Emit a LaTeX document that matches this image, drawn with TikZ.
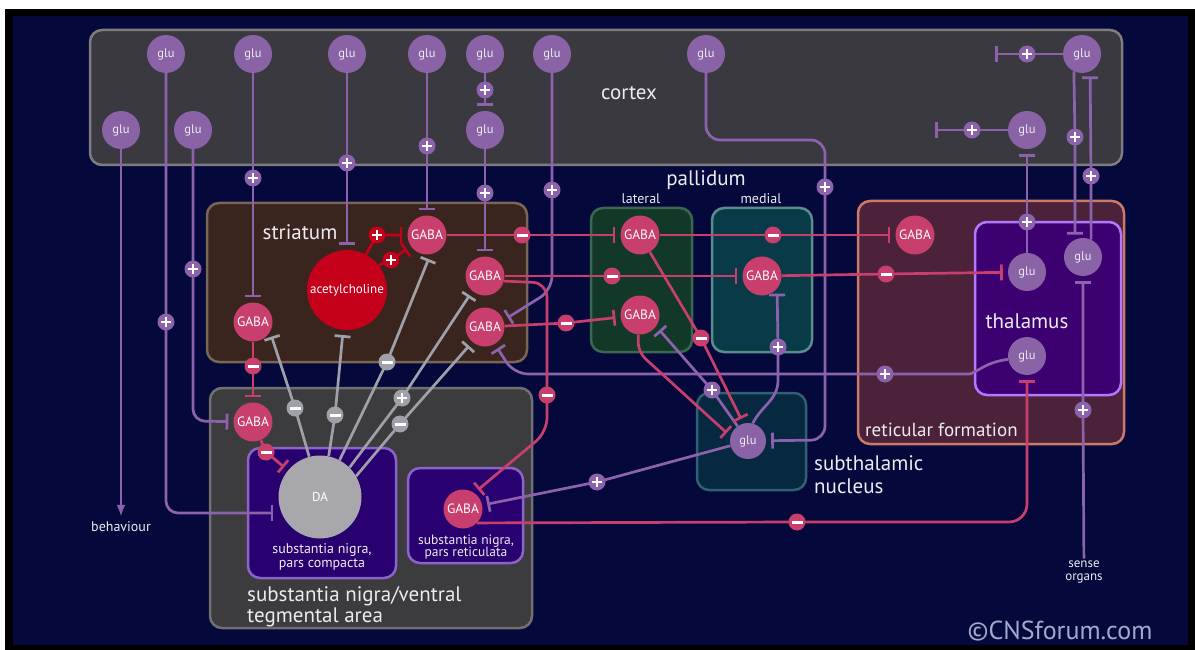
\documentclass[tikz,border=0pt]{standalone}
\usepackage{fontspec}
\setmainfont{PT Sans}
\usetikzlibrary{arrows.meta}

\definecolor{bgnavy}{RGB}{4,8,58}
\definecolor{ctxfill}{RGB}{58,57,64}
\definecolor{ctxline}{RGB}{125,125,128}
\definecolor{glufill}{RGB}{138,98,166}
\definecolor{gluline}{RGB}{140,98,172}
\definecolor{gabafill}{RGB}{200,62,108}
\definecolor{achred}{RGB}{196,0,26}
\definecolor{dagrey}{RGB}{168,168,172}
\definecolor{dalgrey}{RGB}{160,160,168}
\definecolor{strfill}{RGB}{58,36,30}
\definecolor{strline}{RGB}{122,102,86}
\definecolor{snfill}{RGB}{60,60,62}
\definecolor{snline}{RGB}{112,112,114}
\definecolor{snbox}{RGB}{40,0,112}
\definecolor{snboxline}{RGB}{140,100,200}
\definecolor{latfill}{RGB}{18,56,40}
\definecolor{latline}{RGB}{56,104,80}
\definecolor{medfill}{RGB}{8,58,72}
\definecolor{medline}{RGB}{90,140,140}
\definecolor{stnfill}{RGB}{6,40,64}
\definecolor{stnline}{RGB}{50,96,110}
\definecolor{retfill}{RGB}{76,34,58}
\definecolor{retline}{RGB}{204,122,104}
\definecolor{thalfill}{RGB}{60,0,112}
\definecolor{thalline}{RGB}{180,120,255}
\definecolor{wmark}{RGB}{160,170,205}
\definecolor{labtext}{RGB}{236,236,240}

\tikzset{
  region/.style 2 args={fill=#1,draw=#2,line width=2.5pt,rounded corners=12pt},
  lab/.style={text=labtext,inner sep=2pt,font=\fontsize{21}{23}\selectfont},
  slab/.style={text=labtext,inner sep=2pt,align=center,font=\fontsize{14}{14}\selectfont},
  glu/.style={circle,fill=glufill,minimum size=38pt,inner sep=0pt,text=labtext,
    font=\fontsize{12.5}{13}\selectfont},
  gaba/.style={circle,fill=gabafill,minimum size=39pt,inner sep=0pt,text=white,
    font=\fontsize{13.5}{14}\selectfont},
  mk/.style={circle,inner sep=0pt,minimum size=17pt,fill=#1},
  pl/.style={mk=#1,path picture={\draw[-,shorten >=0pt,shorten <=0pt,white,line width=2.8pt]
    (path picture bounding box.center) +(-4.8pt,0pt) -- +(4.8pt,0pt)
    (path picture bounding box.center) +(0pt,-4.8pt) -- +(0pt,4.8pt);}},
  pl/.default=gluline,
  mi/.style={mk=#1,path picture={\draw[-,shorten >=0pt,shorten <=0pt,white,line width=3pt]
    (path picture bounding box.center) +(-5.5pt,0pt) -- +(5.5pt,0pt);}},
  mi/.default=gabafill,
  exl/.style={draw=gluline,line width=2.7pt},
  inl/.style={draw=gabafill,line width=2.7pt},
  acl/.style={draw=achred,line width=2.7pt},
  dal/.style={draw=dalgrey,line width=2.7pt},
  tb/.style={-{Bar[width=16pt]},shorten >=5pt},
}

\begin{document}
\begin{tikzpicture}[x=1pt,y=-1pt]
  \useasboundingbox (0,0) rectangle (1195,650);
  \fill[white] (0,0) rectangle (1195,650);
  \fill[black] (5,9) rectangle (1195,650);
  \fill[bgnavy] (13,16) rectangle (1188,645);

  % regions
  \draw[region={ctxfill}{ctxline}] (90,30) rectangle (1122,165);
  \draw[region={strfill}{strline}] (207,203) rectangle (527,362);
  \draw[region={snfill}{snline}] (210,388) rectangle (532,628);
  \draw[region={snbox}{snboxline}] (248,448) rectangle (396,578);
  \draw[region={snbox}{snboxline}] (408,468) rectangle (523,563);
  \draw[region={latfill}{latline}] (591,208) rectangle (692,352);
  \draw[region={medfill}{medline}] (712,208) rectangle (812,352);
  \draw[region={stnfill}{stnline}] (697,393) rectangle (806,490);
  \draw[region={retfill}{retline}] (858,201) rectangle (1124,444);
  \draw[region={thalfill}{thalline}] (975,222) rectangle (1121,395);

  % labels
  \node[lab] (lcortex) at (629,93) {cortex};
  \node[lab] (lpall) at (706,180) {pallidum};
  \node[slab] (llat) at (641,199) {lateral};
  \node[slab] (lmed) at (761,199) {medial};
  \node[lab] (lstr) at (300,232) {striatum};
  \node[lab] (lthal) at (1027,321) {thalamus};
  \node[lab,anchor=west,font=\fontsize{19}{21}\selectfont] (lret) at (863,430) {reticular formation};
  \node[lab,anchor=west,align=left] (lstn) at (812,475) {subthalamic\\nucleus};
  \node[lab,anchor=west,align=left,font=\fontsize{21}{21}\selectfont] (lsn) at (245,607)
    {substantia nigra/ventral\\tegmental area};
  \node[slab] (lsnc) at (322,557) {substantia nigra,\\pars compacta};
  \node[slab,font=\fontsize{13.5}{12.5}\selectfont] (lsnr) at (466,547) {substantia nigra,\\pars reticulata};
  \node[slab] (behav) at (121,527) {behaviour};
  \node[slab,font=\fontsize{13}{13}\selectfont] (sense) at (1084,572) {sense\\organs};
  \node[text=wmark,font=\fontsize{26}{28}\selectfont] (lcopy) at (1060,631) {©CNSforum.com};

  % cortex
  \node[glu] (c1) at (166,54) {glu};
  \node[glu] (c2) at (253,54) {glu};
  \node[glu] (c3) at (347,54) {glu};
  \node[glu] (c4) at (427,54) {glu};
  \node[glu] (c5) at (485,54) {glu};
  \node[glu] (c6) at (552,54) {glu};
  \node[glu] (c7) at (706,54) {glu};
  \node[glu] (c8) at (1082,54) {glu};
  \node[glu] (c9) at (121,130) {glu};
  \node[glu] (c10) at (193,130) {glu};
  \node[glu] (c11) at (485,130) {glu};
  \node[glu] (c12) at (1027,130) {glu};

  % striatum and substantia nigra
  \node[gaba] (s1) at (427,235) {GABA};
  \node[gaba] (s2) at (485,276) {GABA};
  \node[gaba] (s3) at (485,327) {GABA};
  \node[gaba] (s4) at (253,322) {GABA};
  \node[circle,fill=achred,minimum size=80pt,inner sep=0pt,text=white,
    font=\fontsize{13}{14}\selectfont] (ach) at (347,290) {acetylcholine};
  \node[gaba] (sng) at (253,422) {GABA};
  \node[circle,fill=dagrey,minimum size=83pt,inner sep=0pt,text=white,
    font=\fontsize{13}{14}\selectfont] (da) at (320,497) {DA};
  \node[gaba] (snr) at (463,509) {GABA};

  % pallidum, thalamus, subthalamic nucleus
  \node[gaba] (l1) at (640,235) {GABA};
  \node[gaba] (l2) at (640,315) {GABA};
  \node[gaba] (m1) at (762,276) {GABA};
  \node[gaba] (rf) at (915,235) {GABA};
  \node[glu] (t1) at (1027,272) {glu};
  \node[glu] (t2) at (1083,257) {glu};
  \node[glu] (t3) at (1027,356) {glu};
  \node[glu,minimum size=36pt] (stn) at (748,441) {glu};

  % glutamate pathways
  \draw[exl,-{Latex[length=12pt,width=9pt]},shorten >=3pt] (c9) -- (behav);
  \draw[exl,tb,rounded corners=12pt] (c1) -- (166,322) node[pl]{} -- (166,513) -- (da.west |- 0,513);
  \draw[exl,tb,rounded corners=12pt] (c10) -- (193,269) node[pl]{} -- (193,421) -- (sng);
  \draw[exl,tb] (c2) -- (253,178) node[pl]{} -- (s4);
  \draw[exl,tb] (c3) -- (347,163) node[pl]{} -- (ach);
  \draw[exl,tb] (c4) -- (427,146) node[pl]{} -- (s1);
  \draw[exl,tb] (c5) -- (485,90) node[pl]{} -- (c11);
  \draw[exl,tb] (c11) -- (485,193) node[pl]{} -- (s2);
  \draw[exl,tb,rounded corners=14pt] (c6) -- (552,190) node[pl]{} -- (552,290) -- (s3.20);
  \draw[exl,tb,rounded corners=14pt] (c7) -- (706,140) -- (825,140) -- (825,187) node[pl]{} -- (825,440) -- (stn);
  \coordinate (c8end) at (990,54);
  \coordinate (c12end) at (930,130);
  \draw[exl,tb] (c8) -- (1027,54) node[pl]{} -- (c8end);
  \draw[exl,tb] (c12) -- (972,130) node[pl]{} -- (c12end);
  \draw[exl,tb] (c8.-115) -- (1075,137) node[pl]{} -- (t2.115);
  \draw[exl,tb] (t2.65) -- (1091,176) node[pl]{} -- (c8.-65);
  \draw[exl,tb] (t1) -- (1027,222) node[pl]{} -- (c12);
  \draw[exl,tb] (sense) -- (1083,410) node[pl]{} -- (t2);
  \draw[exl,tb] (stn.195) -- (597,482) node[pl]{} -- (snr);
  \draw[exl,tb] (stn) -- (712,390) node[pl]{} -- (l2.-35);
  \draw[exl,tb] (stn.75) .. controls (762,405) and (778,400) .. (778,380) -- (778,347) node[pl]{} -- (m1.-40);
  \draw[exl,tb,rounded corners=14pt] (t3.190) .. controls (985,362) and (975,374) .. (955,374)
    -- (885,374) node[pl]{} -- (514,374) -- (s3.-60);

  % GABA pathways
  \draw[inl,tb] (s1) -- (522,235) node[mi]{} -- (l1);
  \draw[inl,tb] (l1) -- (773,235) node[mi]{} -- (rf);
  \draw[inl,tb] (s2) -- (612,276) node[mi]{} -- (m1);
  \draw[inl,tb] (m1) -- (886,274) node[mi]{} -- (t1);
  \draw[inl,tb] (s3) -- (566,323) node[mi]{} -- (l2);
  \draw[inl,tb,rounded corners=14pt] (s2.-15) -- (547,283) -- (547,395) node[mi]{} -- (547,432) -- (snr.55);
  \draw[inl,tb] (l1.-60) -- (701,338) node[mi]{} -- (stn.105);
  \draw[inl,tb,rounded corners=10pt] (l2.-95) -- (638,352) -- (stn.165);
  \draw[inl,tb] (s4) -- (253,366) node[mi]{} -- (sng);
  \draw[inl,tb] (sng) -- (266,452) node[mi]{} -- (da);
  \draw[inl,tb,rounded corners=18pt] (snr.-45) -- (797,522) node[mi]{} -- (1027,522) -- (t3);

  % acetylcholine
  \draw[acl,tb] (ach.62) -- (377,235) node[pl=achred]{} -- (s1);
  \draw[acl,tb] (ach.38) -- (391,260) node[pl=achred]{} -- (s1);

  % dopamine
  \draw[dal,tb] (da.105) -- (295,408) node[mi=dalgrey]{} -- (s4.-30);
  \draw[dal,tb] (da.78) -- (335,415) node[mi=dalgrey]{} -- (ach);
  \draw[dal,tb] (da.62) -- (387,362) node[mi=dalgrey]{} -- (s1.-80);
  \draw[dal,tb] (da.45) -- (402,398) node[pl=dalgrey]{} -- (s2.-130);
  \draw[dal,tb] (da.30) -- (400,424) node[mi=dalgrey]{} -- (s3.-130);
\end{tikzpicture}
\end{document}
